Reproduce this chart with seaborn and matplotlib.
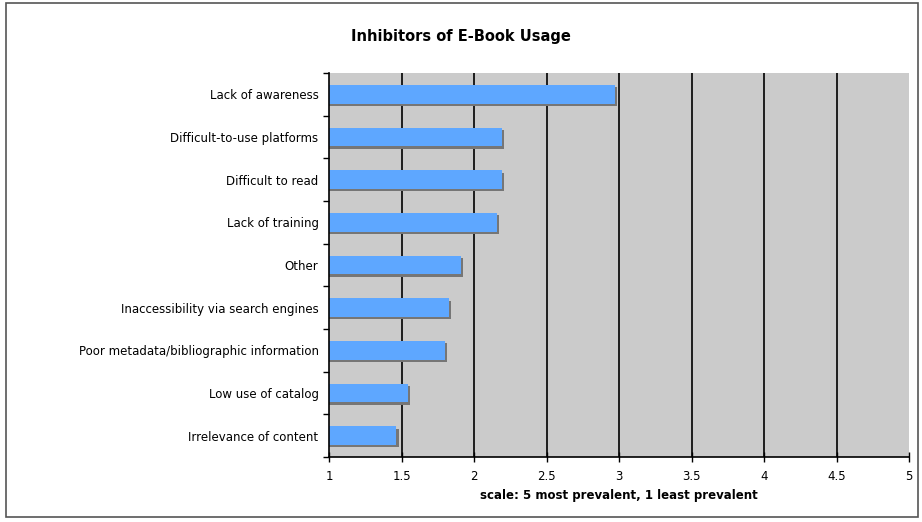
import matplotlib
matplotlib.use('Agg')
import matplotlib.pyplot as plt
import matplotlib.patheffects as pe
import seaborn as sns
import pandas as pd
import numpy as np

# data
categories = ['Lack of awareness', 'Difficult-to-use platforms', 'Difficult to read',
              'Lack of training', 'Other', 'Inaccessibility via search engines',
              'Poor metadata/bibliographic information', 'Low use of catalog',
              'Irrelevance of content']
scores = [2.97, 2.19, 2.19, 2.16, 1.91, 1.825, 1.80, 1.545, 1.465]
xticks = [1, 1.5, 2, 2.5, 3, 3.5, 4, 4.5, 5]

df = pd.DataFrame({'inhibitor': categories, 'score': scores})

sns.set_style('white')
plt.rcParams['font.family'] = 'DejaVu Sans'
plt.rcParams['text.color'] = 'black'
plt.rcParams['xtick.color'] = 'black'
plt.rcParams['ytick.color'] = 'black'
plt.rcParams['axes.labelcolor'] = 'black'

fig = plt.figure(figsize=(9.22, 5.22), dpi=100)
ax = fig.add_axes([329 / 922, 1 - 457 / 522, 580 / 922, 384 / 522])

sns.barplot(data=df, x='score', y='inhibitor', orient='h', color='#5ea7ff',
            saturation=1, width=0.44, linewidth=0, ax=ax)
for bar in ax.patches:
    bar.set_path_effects([pe.SimplePatchShadow(offset=(1.6, -1.6), shadow_rgbFace='#767676', alpha=1),
                          pe.Normal()])

ax.set_facecolor('#cbcbcb')
ax.set_xlim(1, 5)
ax.set_xticks(xticks)
ax.set_xticklabels([f'{t:g}' for t in xticks], fontsize=8.5)
ax.tick_params(axis='x', bottom=True, direction='inout', length=7, width=1, pad=6)
ax.tick_params(axis='y', which='major', left=False, labelsize=8.5, pad=4)
ax.set_yticks(np.arange(-0.5, len(categories), 1), minor=True)
ax.tick_params(axis='y', which='minor', left=True, direction='out', length=4, width=1)
for t in xticks[1:-1]:
    ax.axvline(t, color='black', linewidth=1.2, zorder=0.5)
ax.set_axisbelow(True)

for side in ['top', 'right']:
    ax.spines[side].set_visible(False)
for side in ['left', 'bottom']:
    ax.spines[side].set_color('black')
    ax.spines[side].set_linewidth(1.2)

ax.set_ylabel('')
ax.set_xlabel('scale: 5 most prevalent, 1 least prevalent', fontsize=8.5,
              fontweight='bold', labelpad=4)
fig.text(0.5, 1 - 37 / 522, 'Inhibitors of E-Book Usage', ha='center', va='center',
         fontsize=10.5, fontweight='bold')

# outer frame of the chart
fig.patches.append(plt.Rectangle((0.006, 0.01), 0.99, 0.985, transform=fig.transFigure,
                                 fill=False, edgecolor='#555555', linewidth=1.2))

plt.savefig('out.png', dpi=100)
